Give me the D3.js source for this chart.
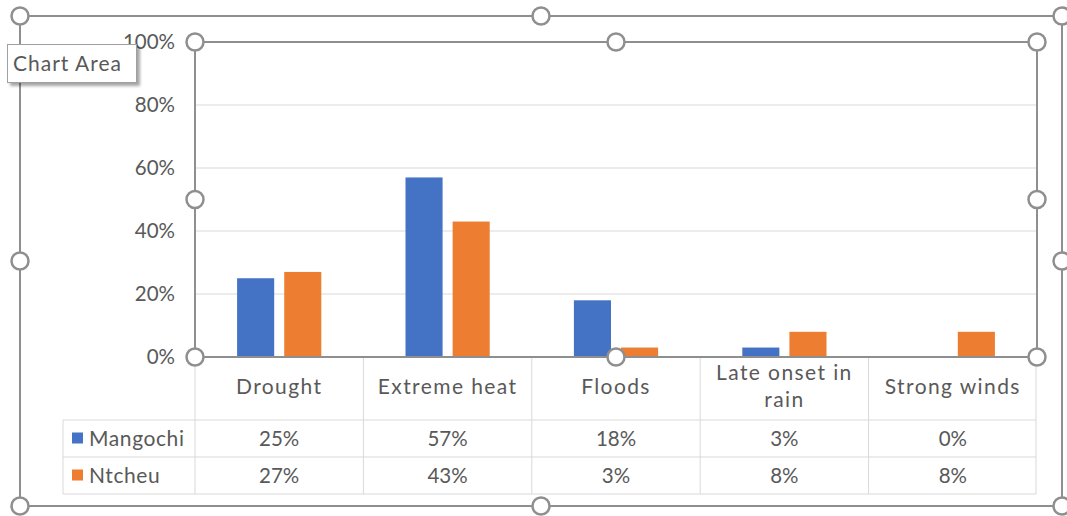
<!DOCTYPE html>
<html>
<head>
<meta charset="utf-8">
<script src="https://cdn.jsdelivr.net/npm/d3@7"></script>
<style>
  html, body { margin: 0; padding: 0; background: #fff; }
  svg { display: block; }
  text { font-family: Lato, "Open Sans", "Liberation Sans", sans-serif; fill: #595959; }
  .word { font-size: 21px; letter-spacing: 1.4px; }
  .num { font-size: 20.5px; }
</style>
</head>
<body>
<svg id="chart" width="1067" height="516"></svg>
<script>
// Hazard categories and the share of respondents in each district
const categories = ["Drought", "Extreme heat", "Floods", "Late onset in rain", "Strong winds"];
const categoryLines = [["Drought"], ["Extreme heat"], ["Floods"], ["Late onset in", "rain"], ["Strong winds"]];
const seriesNames = ["Mangochi", "Ntcheu"];
const mangochi = [0.25, 0.57, 0.18, 0.03, 0.00];
const ntcheu = [0.27, 0.43, 0.03, 0.08, 0.08];
const yTicks = [0, 0.2, 0.4, 0.6, 0.8, 1.0];

const seriesValues = [mangochi, ntcheu];
const colors = { Mangochi: "#4472c4", Ntcheu: "#ed7d31" };

const svg = d3.select("#chart");

const plot = { left: 195, right: 1037, top: 42, bottom: 357 };
const outer = { left: 20, right: 1062, top: 16, bottom: 506 };

const x = d3.scaleBand().domain(categories).range([plot.left, plot.right]).paddingInner(0).paddingOuter(0);
const y = d3.scaleLinear().domain([0, 1]).range([plot.bottom, plot.top]);
const xInner = d3.scaleBand().domain(seriesNames)
  .range([x.bandwidth() * 0.25, x.bandwidth() * 0.75])
  .paddingInner(0.213).paddingOuter(0);

const fmt = d3.format(".0%");

// Horizontal gridlines
svg.append("g")
  .selectAll("line")
  .data(yTicks.filter(d => d > 0))
  .join("line")
  .attr("x1", plot.left).attr("x2", plot.right)
  .attr("y1", d => y(d)).attr("y2", d => y(d))
  .attr("stroke", "#d9d9d9").attr("stroke-width", 1);

// Y axis labels
const yAxis = d3.axisLeft(y).tickValues(yTicks).tickFormat(fmt).tickSize(0).tickPadding(20);
const yg = svg.append("g").attr("transform", `translate(${plot.left},0)`).call(yAxis);
yg.select(".domain").remove();
yg.attr("font-size", null).attr("font-family", null);
yg.selectAll("text").attr("class", "num").attr("fill", "#595959");

// Bars
const groups = svg.append("g")
  .selectAll("g")
  .data(categories)
  .join("g")
  .attr("transform", d => `translate(${x(d)},0)`);

groups.selectAll("rect")
  .data((d, i) => seriesNames.map((s, k) => ({ s, v: seriesValues[k][i] })))
  .join("rect")
  .attr("x", d => xInner(d.s))
  .attr("width", xInner.bandwidth())
  .attr("y", d => y(d.v))
  .attr("height", d => y(0) - y(d.v))
  .attr("fill", d => colors[d.s]);

// Data table below the plot
const table = svg.append("g");
const rowTop = [plot.bottom, 420, 457, 494];
const tableLeft = 63;
const grid = "#d9d9d9";

// category boundaries
const bounds = categories.map(c => x(c)).concat([plot.right - 1]);
table.selectAll("line.v")
  .data(bounds)
  .join("line")
  .attr("class", "v")
  .attr("x1", d => d).attr("x2", d => d)
  .attr("y1", rowTop[0]).attr("y2", rowTop[3])
  .attr("stroke", grid).attr("stroke-width", 1);
table.append("line")
  .attr("x1", tableLeft).attr("x2", tableLeft)
  .attr("y1", rowTop[1]).attr("y2", rowTop[3])
  .attr("stroke", grid);
table.selectAll("line.h")
  .data(rowTop.slice(1))
  .join("line")
  .attr("class", "h")
  .attr("x1", tableLeft).attr("x2", plot.right - 1)
  .attr("y1", d => d).attr("y2", d => d)
  .attr("stroke", grid);

// header (category names)
const hdr = table.selectAll("text.cat")
  .data(categoryLines)
  .join("text")
  .attr("class", "cat word")
  .attr("text-anchor", "middle")
  .attr("x", (d, i) => x(categories[i]) + x.bandwidth() / 2)
  .attr("y", d => d.length === 1 ? 394 : 380);
hdr.selectAll("tspan")
  .data(d => d)
  .join("tspan")
  .attr("x", function () { return d3.select(this.parentNode).attr("x"); })
  .attr("dy", (d, i) => i === 0 ? 0 : 27)
  .text(d => d);

// value rows
seriesNames.forEach((s, k) => {
  const cy = (rowTop[k + 1] + rowTop[k + 2]) / 2;
  table.append("rect")
    .attr("x", 72).attr("y", cy - 6).attr("width", 11).attr("height", 11)
    .attr("fill", colors[s]);
  table.append("text")
    .attr("class", "word")
    .attr("x", 89).attr("y", cy + 7)
    .style("letter-spacing", "0.6px")
    .text(s);
  table.selectAll(null)
    .data(seriesValues[k])
    .join("text")
    .attr("class", "num")
    .attr("text-anchor", "middle")
    .attr("x", (d, i) => x(categories[i]) + x.bandwidth() / 2)
    .attr("y", cy + 7)
    .text(d => fmt(d));
});

// Selection frames with sizing handles
const frameColor = "#8f8f8f";
function frame(b) {
  const g = svg.append("g");
  g.append("rect")
    .attr("x", b.left).attr("y", b.top)
    .attr("width", b.right - b.left).attr("height", b.bottom - b.top)
    .attr("fill", "none").attr("stroke", frameColor).attr("stroke-width", 2);
  const mx = (b.left + b.right) / 2, my = (b.top + b.bottom) / 2;
  const pts = [[b.left, b.top], [mx, b.top], [b.right, b.top],
               [b.left, my], [b.right, my],
               [b.left, b.bottom], [mx, b.bottom], [b.right, b.bottom]];
  g.selectAll("circle").data(pts).join("circle")
    .attr("cx", d => d[0]).attr("cy", d => d[1]).attr("r", 8.5)
    .attr("fill", "#fff").attr("stroke", frameColor).attr("stroke-width", 2.5);
}
frame(outer);
frame(plot);

// Hover tooltip
const defs = svg.append("defs");
const f = defs.append("filter").attr("id", "shadow").attr("x", "-10%").attr("y", "-10%").attr("width", "130%").attr("height", "140%");
f.append("feDropShadow").attr("dx", 3).attr("dy", 3).attr("stdDeviation", 1.5).attr("flood-color", "#000").attr("flood-opacity", 0.35);
const tip = svg.append("g");
tip.append("rect")
  .attr("x", 7.5).attr("y", 44.5).attr("width", 129).attr("height", 38)
  .attr("fill", "#fff").attr("stroke", "#a0a0a0").attr("stroke-width", 1)
  .attr("filter", "url(#shadow)");
tip.append("text")
  .attr("class", "word")
  .attr("x", 13).attr("y", 71)
  .attr("fill", "#505050")
  .style("letter-spacing", "1px")
  .text("Chart Area");
</script>
</body>
</html>
